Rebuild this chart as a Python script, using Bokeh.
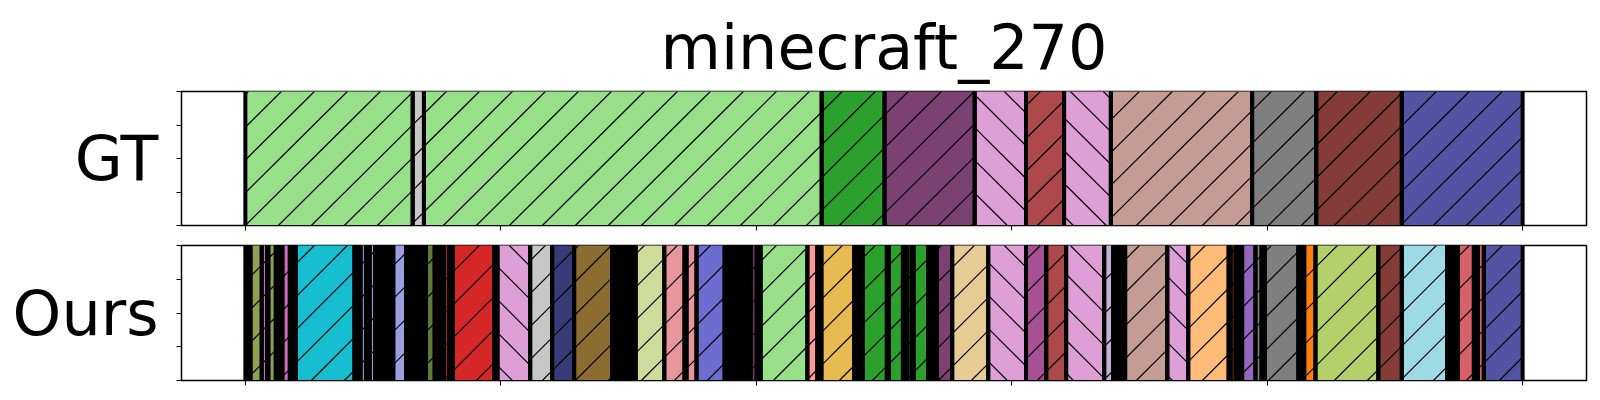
import math
from bokeh.plotting import figure
from bokeh.models import ColumnDataSource, Range1d, FixedTicker
from bokeh.layouts import column
from bokeh.embed import file_html
from bokeh.resources import INLINE

TITLE = "minecraft_270"
X_TICKS = [0, 100, 200, 300, 400, 500]
Y_TICKS = [0, 0.25, 0.5, 0.75, 1.0]

# Ground-truth segments (frame units)
gt_start = [0, 65.5, 69.9, 225.6, 250.2, 285.5, 305.6, 320.5, 338.8, 394.1, 419.2, 452.7]
gt_end = [65.5, 69.9, 225.6, 250.2, 285.5, 305.6, 320.5, 338.8, 394.1, 419.2, 452.7, 500]
gt_color = ["#98df8a", "#c7c7c7", "#98df8a", "#2ca02c", "#7b4173", "#de9ed6",
            "#ad494a", "#de9ed6", "#c49c94", "#7f7f7f", "#843c39", "#5254a3"]
gt_hatch = ["/", "/", "/", "/", "/", "\\", "/", "\\", "/", "/", "/", "/"]

# Predicted segments (black = clusters of tiny segments)
ours_start = [0, 2.0, 6.4, 8.5, 9.0, 11.9, 14.5, 17.4, 19.7, 42.7, 45.1, 47.2, 48.7, 50.8,
              57.9, 62.9, 70.7, 74.1, 77.8, 79.8, 81.2, 97.4, 98.7, 111.5, 120.1, 128.7,
              143.6, 152.8, 164.0, 171.9, 172.7, 176.6, 187.6, 198.0, 200.1, 201.7, 220.0,
              223.9, 225.5, 238.3, 241.7, 251.1, 251.9, 257.4, 258.9, 260.8, 261.6, 267.3,
              270.7, 276.7, 290.8, 305.6, 313.5, 321.3, 336.2, 339.7, 344.4, 360.9, 369.1,
              384.9, 385.7, 387.6, 390.2, 395.4, 397.8, 399.1, 412.2, 414.5, 418.9, 443.5,
              452.7, 470.4, 474.6, 480.9, 482.5, 484.8]
ours_end = ours_start[1:] + [500]
ours_color = ["black", "#8ca252", "#ce6dbd", "black", "#8ca252", "black", "#ce6dbd", "black",
              "#17becf", "black", "#9c9ede", "black", "#9c9ede", "black", "#9c9ede", "black",
              "#637939", "black", "#d62728", "black", "#d62728", "black", "#de9ed6", "#c7c7c7",
              "#393b79", "#8c6d31", "black", "#cedb9c", "#e7969c", "black", "#e7969c",
              "#6b6ecf", "black", "#a55194", "black", "#98df8a", "#ff9896", "black", "#e7ba52",
              "black", "#2ca02c", "black", "#2ca02c", "black", "#2ca02c", "black", "#2ca02c",
              "black", "#7b4173", "#e7cb94", "#de9ed6", "#a55194", "#ad494a", "#de9ed6",
              "#c5b0d5", "black", "#c49c94", "#de9ed6", "#ffbb78", "black", "#ff7f0e", "black",
              "#9467bd", "#7f7f7f", "black", "#7f7f7f", "black", "#ff7f0e", "#b5cf6b",
              "#843c39", "#9edae5", "black", "#d6616b", "black", "#d6616b", "#5254a3"]
ours_hatch = ["" if c == "black" else ("\\" if c == "#de9ed6" else "/") for c in ours_color]

FONT = "DejaVu Sans"

# layout constants (pixels)
FIG_W = 1592
BORDER_L, BORDER_R = 181, 6
FRAME_W = FIG_W - BORDER_L - BORDER_R
FRAME_H = 135
X_LO, X_HI = -25, 525
HATCH_SPACING_PX = 33


def hatch_lines(starts, ends, hatches):
    """45-degree (in screen space) hatch lines clipped to each segment."""
    px_per_unit = FRAME_W / (X_HI - X_LO)
    rise = FRAME_H / px_per_unit          # x-units crossed over the full bar height
    step = HATCH_SPACING_PX / px_per_unit
    x0s, y0s, x1s, y1s = [], [], [], []
    for l, r, h in zip(starts, ends, hatches):
        if h not in ("/", "\\"):
            continue
        k0 = math.floor((l - rise) / step) - 1
        k1 = math.ceil(r / step) + 1
        for k in range(k0, k1 + 1):
            b = k * step
            if h == "/":
                ylo = max(0.0, (l - b) / rise)
                yhi = min(1.0, (r - b) / rise)
                if yhi > ylo:
                    x0s.append(b + ylo * rise); y0s.append(ylo)
                    x1s.append(b + yhi * rise); y1s.append(yhi)
            else:
                ylo = max(0.0, 1 - (r - b) / rise)
                yhi = min(1.0, 1 - (l - b) / rise)
                if yhi > ylo:
                    x0s.append(b + (1 - ylo) * rise); y0s.append(ylo)
                    x1s.append(b + (1 - yhi) * rise); y1s.append(yhi)
    return dict(x0=x0s, y0=y0s, x1=x1s, y1=y1s)


def panel(label, starts, ends, colors, hatches, height, b_top, b_bottom, title=None):
    p = figure(width=FIG_W, height=height, output_backend="svg", toolbar_location=None,
               x_range=Range1d(X_LO, X_HI), y_range=Range1d(0, 1),
               min_border_left=BORDER_L, min_border_right=BORDER_R,
               min_border_top=b_top, min_border_bottom=b_bottom, title=title)
    src = ColumnDataSource(dict(left=starts, right=ends, color=colors))
    p.quad(left="left", right="right", bottom=-0.2, top=1.2, source=src,
           fill_color="color", line_color=None)
    p.segment(x0="x0", y0="y0", x1="x1", y1="y1",
              source=ColumnDataSource(hatch_lines(starts, ends, hatches)),
              line_color="black", line_width=1.2)
    p.quad(left="left", right="right", bottom=-0.2, top=1.2, source=src,
           fill_color=None, line_color="black", line_width=4)
    p.grid.visible = False
    p.outline_line_color = "black"
    p.outline_line_width = 1.5
    p.background_fill_color = "white"
    p.border_fill_color = "white"
    for ax in (p.xaxis[0], p.yaxis[0]):
        ax.major_tick_in = 0
        ax.major_tick_out = 5
        ax.minor_tick_line_color = None
        ax.major_tick_line_color = "black"
        ax.axis_line_color = "black"
        ax.major_label_standoff = 0
    p.xaxis.ticker = FixedTicker(ticks=X_TICKS)
    p.xaxis.major_label_overrides = {t: "" for t in X_TICKS}
    p.yaxis.ticker = FixedTicker(ticks=Y_TICKS)
    p.yaxis.major_label_overrides = {t: "" for t in Y_TICKS}
    p.yaxis.axis_label = label
    p.yaxis.axis_label_orientation = "horizontal"
    p.yaxis.axis_label_text_font = FONT
    p.yaxis.axis_label_text_font_size = "62px"
    p.yaxis.axis_label_text_font_style = "normal"
    p.yaxis.axis_label_text_color = "black"
    p.yaxis.axis_label_standoff = 18
    if title is not None:
        p.title.text_font = FONT
        p.title.text_font_size = "62px"
        p.title.text_font_style = "normal"
        p.title.align = "center"
        p.title.text_color = "black"
        p.title.standoff = 16
    return p


p1 = panel("GT", gt_start, gt_end, gt_color, gt_hatch, 235, 13, 10, title=TITLE)
p2 = panel("Ours", ours_start, ours_end, ours_color, ours_hatch, 157, 10, 12)

layout = column(p1, p2, spacing=0)
open("out.html", "w").write(file_html(layout, INLINE))
